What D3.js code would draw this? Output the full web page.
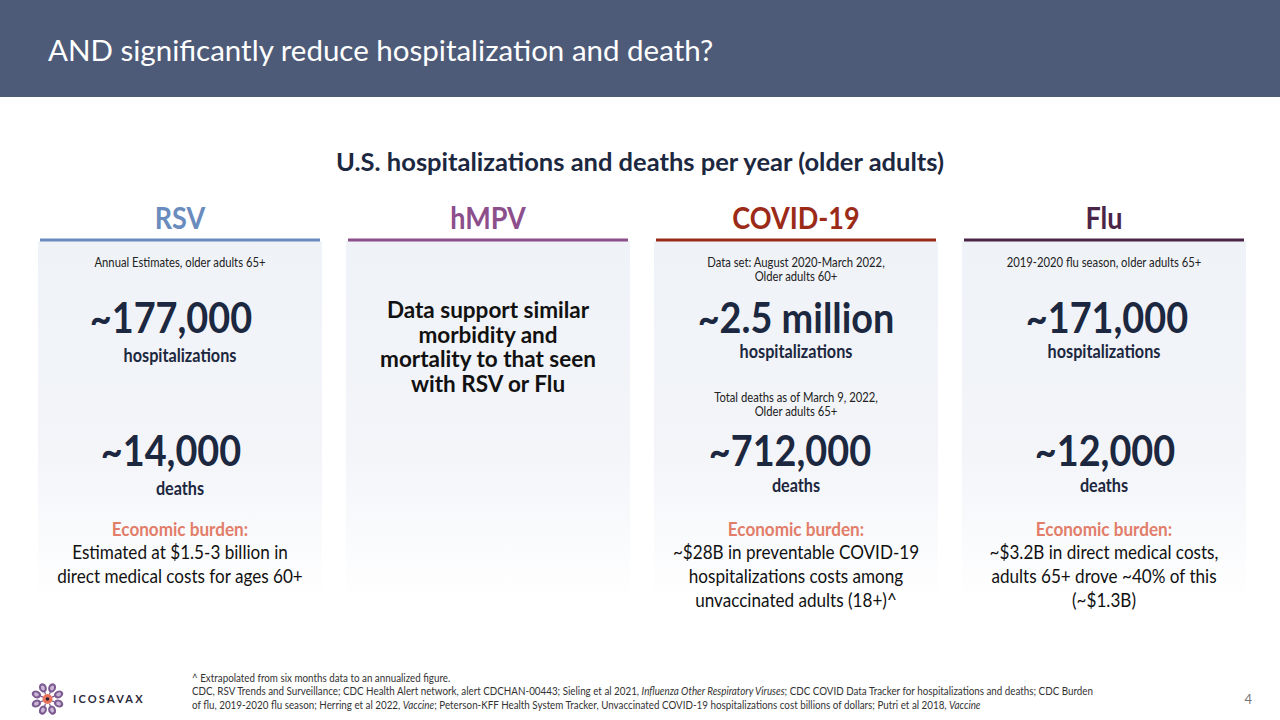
<!DOCTYPE html>
<html>
<head>
<meta charset="utf-8">
<script src="https://cdn.jsdelivr.net/npm/d3@7"></script>
<style>
  html, body { margin: 0; padding: 0; background: #ffffff; }
  svg { display: block; font-family: Lato, "Open Sans", sans-serif; }
</style>
</head>
<body>
<svg id="chart" width="1280" height="720"></svg>
<script>
// ---------------- DATA ----------------
const slideTitle = "AND significantly reduce hospitalization and death?";
const chartTitle = "U.S. hospitalizations and deaths per year (older adults)";
const categories = ["RSV", "hMPV", "COVID-19", "Flu"];
const categoryColors = ["#6a8bbd", "#8c4f8c", "#9c2a18", "#4b2548"];
const topNotes = [
  ["Annual Estimates, older adults 65+"],
  [],
  ["Data set: August 2020-March 2022,", "Older adults 60+"],
  ["2019-2020 flu season, older adults 65+"]
];
const hospitalizations = ["~177,000", null, "~2.5 million", "~171,000"];
const deathNotes = [
  [],
  [],
  ["Total deaths as of March 9, 2022,", "Older adults 65+"],
  []
];
const deaths = ["~14,000", null, "~712,000", "~12,000"];
const hmpvStatement = ["Data support similar", "morbidity and", "mortality to that seen", "with RSV or Flu"];
const burdenLabel = "Economic burden:";
const burdenText = [
  ["Estimated at $1.5-3 billion in", "direct medical costs for ages 60+"],
  [],
  ["~$28B in preventable COVID-19", "hospitalizations costs among", "unvaccinated adults (18+)^"],
  ["~$3.2B in direct medical costs,", "adults 65+ drove ~40% of this", "(~$1.3B)"]
];
const footnoteLines = [
  [["^ Extrapolated from six months data to an annualized figure.", false]],
  [["CDC, RSV Trends and Surveillance; CDC Health Alert network, alert CDCHAN-00443; Sieling et al 2021, ", false],
   ["Influenza Other Respiratory Viruses", true],
   ["; CDC COVID Data Tracker for hospitalizations and deaths; CDC Burden", false]],
  [["of flu, 2019-2020 flu season; Herring et al 2022, ", false],
   ["Vaccine", true],
   ["; Peterson-KFF Health System Tracker, Unvaccinated COVID-19 hospitalizations cost billions of dollars; Putri et al 2018, ", false],
   ["Vaccine", true]]
];
const pageNumber = "4";
const brandName = "ICOSAVAX";

// ---------------- DRAW ----------------
const svg = d3.select("#chart");
const W = 1280, H = 720;
const NAVY = "#1c2740";
const SQUEEZE = 0.9; // Lato is wider than the original Calibri

function squeeze(sel, f) {
  sel.each(function () {
    const w = this.getComputedTextLength();
    if (w > 0) {
      d3.select(this).attr("textLength", w * (f || SQUEEZE)).attr("lengthAdjust", "spacingAndGlyphs");
    }
  });
}

// header band
svg.append("rect").attr("x", 0).attr("y", 0).attr("width", W).attr("height", 97).attr("fill", "#4e5b78");
svg.append("text").attr("x", 48).attr("y", 61)
  .attr("fill", "#ffffff").attr("font-size", 29.5)
  .text(slideTitle);

// chart title
svg.append("text").attr("x", W / 2).attr("y", 171).attr("text-anchor", "middle")
  .attr("fill", NAVY).attr("font-size", 25.5).attr("font-weight", 700)
  .text(chartTitle);

// gradient for panels
const defs = svg.append("defs");
const grad = defs.append("linearGradient").attr("id", "panelGrad").attr("x1", 0).attr("y1", 0).attr("x2", 0).attr("y2", 1);
grad.append("stop").attr("offset", "0%").attr("stop-color", "#eff2f7");
grad.append("stop").attr("offset", "60%").attr("stop-color", "#f3f5f9");
grad.append("stop").attr("offset", "100%").attr("stop-color", "#ffffff");

const x = d3.scaleBand().domain(categories).range([40, 1244]).paddingInner(28 / 308).paddingOuter(0);

const cols = svg.selectAll("g.col").data(categories).join("g")
  .attr("class", "col")
  .attr("transform", d => `translate(${x(d)},0)`);

const bw = x.bandwidth();
const cx = bw / 2;
const hospShift = [-9, 0, 0, 3];
const deathShift = [-9, 0, -6, 1];

cols.append("rect").attr("x", -2).attr("y", 241).attr("width", bw + 4).attr("height", 360).attr("fill", "url(#panelGrad)");
cols.append("rect").attr("x", 0).attr("y", 238.5).attr("width", bw).attr("height", 3)
  .attr("fill", (d, i) => categoryColors[i]);

cols.append("text").attr("x", cx).attr("y", 229).attr("text-anchor", "middle")
  .attr("font-size", 30).attr("font-weight", 700)
  .attr("fill", (d, i) => categoryColors[i])
  .text(d => d).call(squeeze);

function lines(g, arr, y0, dy, size, weight, color) {
  g.each(function (d, i) {
    const L = arr[i] || [];
    d3.select(this).selectAll(null).data(L).join("text")
      .attr("x", cx).attr("y", (t, j) => y0 + j * dy)
      .attr("text-anchor", "middle").attr("font-size", size).attr("font-weight", weight)
      .attr("fill", color).text(t => t).call(squeeze);
  });
}

lines(cols, topNotes, 267, 14, 12.5, 400, "#222222");

cols.each(function (d, i) {
  const g = d3.select(this);
  if (hospitalizations[i]) {
    g.append("text").attr("x", cx + hospShift[i]).attr("y", 333).attr("text-anchor", "middle")
      .attr("font-size", 42).attr("font-weight", 700).attr("fill", NAVY)
      .text(hospitalizations[i]).call(squeeze);
    g.append("text").attr("x", cx).attr("y", i === 0 ? 362 : 358).attr("text-anchor", "middle")
      .attr("font-size", 18).attr("font-weight", 700).attr("fill", NAVY)
      .text("hospitalizations").call(squeeze);
  }
  if (deaths[i]) {
    g.append("text").attr("x", cx + deathShift[i]).attr("y", 466).attr("text-anchor", "middle")
      .attr("font-size", 42).attr("font-weight", 700).attr("fill", NAVY)
      .text(deaths[i]).call(squeeze);
    g.append("text").attr("x", cx).attr("y", i === 0 ? 495 : 492).attr("text-anchor", "middle")
      .attr("font-size", 18).attr("font-weight", 700).attr("fill", NAVY)
      .text("deaths").call(squeeze);
  }
  if ((burdenText[i] || []).length) {
    g.append("text").attr("x", cx).attr("y", 536).attr("text-anchor", "middle")
      .attr("font-size", 19).attr("font-weight", 700).attr("fill", "#e27d69")
      .text(burdenLabel).call(squeeze);
  }
  if (categories[i] === "hMPV") {
    g.selectAll(null).data(hmpvStatement).join("text")
      .attr("x", cx).attr("y", (t, j) => 318 + j * 24.5)
      .attr("text-anchor", "middle").attr("font-size", 22.5).attr("font-weight", 700)
      .attr("fill", "#111111").text(t => t);
  }
});

lines(cols, deathNotes, 402, 13.5, 12.5, 400, "#222222");
lines(cols, burdenText, 559, 24, 19, 400, "#111111");

// footnotes (compressed horizontally as a block)
const fn = svg.append("g").attr("transform", "translate(192,0) scale(0.935,1)");
footnoteLines.forEach((parts, j) => {
  const t = fn.append("text").attr("x", 0).attr("y", 682 + j * 13.5)
    .attr("font-size", 10.5).attr("fill", "#333333");
  parts.forEach(p => t.append("tspan").attr("font-style", p[1] ? "italic" : "normal").text(p[0]));
});

svg.append("text").attr("x", 1252).attr("y", 704).attr("text-anchor", "end")
  .attr("font-size", 13).attr("fill", "#777777").text(pageNumber);

// logo
const logo = svg.append("g").attr("transform", "translate(47.5,699)");
const petalAngles = d3.range(8).map(k => k * 45 + 22.5);
logo.selectAll("g.petal").data(petalAngles).join("g")
  .attr("transform", a => `rotate(${a}) translate(0,-11)`)
  .each(function () {
    const p = d3.select(this);
    p.append("ellipse").attr("cy", -1).attr("rx", 3.8).attr("ry", 4.8).attr("fill", "#7c5a91");
    p.append("ellipse").attr("cy", -1).attr("rx", 1.9).attr("ry", 2.5).attr("fill", "#c9b6d6");
    p.append("line").attr("x1", 0).attr("y1", 3.5).attr("x2", 0).attr("y2", 6)
      .attr("stroke", "#7c5a91").attr("stroke-width", 1.2);
  });
logo.append("circle").attr("r", 5).attr("fill", "#e8735a");
logo.append("circle").attr("r", 1.8).attr("fill", "#2b2033");
svg.append("text").attr("x", 73).attr("y", 703).attr("font-size", 11).attr("font-weight", 700)
  .attr("letter-spacing", 2.2).attr("fill", "#2d2a3a").text(brandName);
</script>
</body>
</html>
